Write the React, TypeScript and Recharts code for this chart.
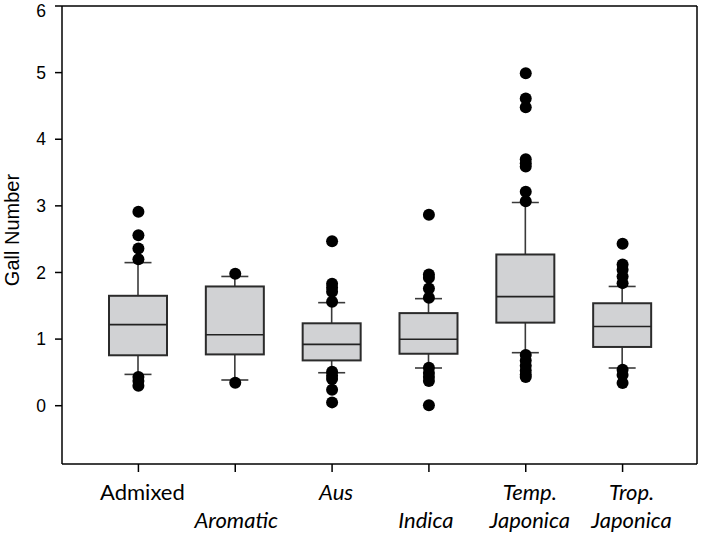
import React from 'react';
import { ComposedChart, Bar, Line, XAxis, YAxis, CartesianGrid } from 'recharts';

const categories = ['Admixed', 'Aromatic', 'Aus', 'Indica', 'Temp. Japonica', 'Trop. Japonica'];
const q1Values = [0.757, 0.77, 0.68, 0.78, 1.247, 0.882];
const medianValues = [1.217, 1.066, 0.92, 0.997, 1.637, 1.19];
const q3Values = [1.65, 1.79, 1.237, 1.39, 2.27, 1.538];
const whiskerLow = [0.47, 0.386, 0.495, 0.566, 0.796, 0.566];
const whiskerHigh = [2.148, 1.94, 1.547, 1.607, 3.05, 1.79];
const outliers = [
  [2.91, 2.56, 2.36, 2.2, 0.43, 0.37, 0.3],
  [1.98, 0.345],
  [2.47, 1.83, 1.77, 1.71, 1.56, 0.51, 0.45, 0.4, 0.24, 0.05],
  [2.865, 1.97, 1.92, 1.76, 1.62, 0.57, 0.49, 0.43, 0.37, 0.006],
  [4.99, 4.61, 4.48, 3.7, 3.64, 3.59, 3.21, 3.07, 0.76, 0.68, 0.6, 0.53, 0.47, 0.43],
  [2.43, 2.12, 2.04, 1.94, 1.84, 0.54, 0.46, 0.34],
];
const yTicks = [0, 1, 2, 3, 4, 5, 6];
const yDomain = [-0.875, 6];

const rows = categories.map((name, i) => {
  const row: Record<string, any> = {
    name,
    box: [q1Values[i], q3Values[i]],
    q1: q1Values[i],
    median: medianValues[i],
    q3: q3Values[i],
    lo: whiskerLow[i],
    hi: whiskerHigh[i],
  };
  outliers[i].forEach((v, j) => {
    row['o' + j] = v;
  });
  return row;
});
const maxOut = Math.max(...outliers.map((o) => o.length));

const labelShift = [4, 1, 4, -3, 4, 9];

function XTick(props: any) {
  const { x, y, payload } = props;
  const name: string = payload.value;
  const i = categories.indexOf(name);
  const isItalic = i > 0;
  const parts = name.split(' ');
  const lines: [string, number][] =
    parts.length === 2 ? [[parts[0], 0], [parts[1], 1]] : [[name, i % 2 === 1 ? 1 : 0]];
  return (
    <g>
      {lines.map(([t, row]) => (
        <text
          key={t}
          x={x + (labelShift[i] || 0)}
          y={y + 26 + row * 28}
          textAnchor="middle"
          fontFamily="Lato, 'Open Sans', sans-serif"
          fontSize={22}
          fontStyle={isItalic ? 'italic' : 'normal'}
          fill="#000"
        >
          {t}
        </text>
      ))}
    </g>
  );
}

function BoxShape(props: any) {
  const { x, y, width, height, payload } = props;
  if (payload == null) return null;
  const top = Math.min(y, y + height);
  const h = Math.abs(height);
  const k = h / (payload.q3 - payload.q1);
  const cx = x + width / 2;
  const medY = top + (payload.q3 - payload.median) * k;
  const hiY = top - (payload.hi - payload.q3) * k;
  const loY = top + h + (payload.q1 - payload.lo) * k;
  const cap = 27;
  const wc = '#3a3a3a';
  return (
    <g>
      <line x1={cx} x2={cx} y1={hiY} y2={top} stroke={wc} strokeWidth={1.6} />
      <line x1={cx} x2={cx} y1={top + h} y2={loY} stroke={wc} strokeWidth={1.6} />
      <line x1={cx - cap / 2} x2={cx + cap / 2} y1={hiY} y2={hiY} stroke={wc} strokeWidth={1.6} />
      <line x1={cx - cap / 2} x2={cx + cap / 2} y1={loY} y2={loY} stroke={wc} strokeWidth={1.6} />
      <rect x={x} y={top} width={width} height={h} fill="#d1d2d4" stroke="#2b2b2b" strokeWidth={2} />
      <line x1={x} x2={x + width} y1={medY} y2={medY} stroke="#222" strokeWidth={1.6} />
    </g>
  );
}

function YLabel(props: any) {
  const vb = props.viewBox || {};
  const cy = (vb.y || 0) + (vb.height || 0) / 2 - 5;
  const cx = 18.5;
  return (
    <text
      x={cx}
      y={cy}
      transform={`rotate(-90, ${cx}, ${cy})`}
      textAnchor="middle"
      fontFamily="'Liberation Sans', Arial, sans-serif"
      fontSize={20}
      fill="#000"
    >
      Gall Number
    </text>
  );
}

export default function App() {
  return (
    <div style={{ position: 'absolute', left: 0, top: 0, background: '#fff' }}>
      <ComposedChart
        width={701}
        height={534}
        data={rows}
        margin={{ top: 6, right: 4, left: 0, bottom: 0 }}
        style={{ fontFamily: "'Liberation Sans', Arial, sans-serif" }}
      >
        <CartesianGrid
          stroke="#000"
          strokeWidth={1.5}
          horizontalCoordinatesGenerator={({ offset }: any) => [offset.top]}
          verticalCoordinatesGenerator={({ offset }: any) => [offset.left + offset.width]}
        />
        <XAxis
          dataKey="name"
          type="category"
          padding={{ left: 28, right: 26 }}
          height={70}
          interval={0}
          tickSize={8}
          tickLine={{ stroke: '#000', strokeWidth: 1.5 }}
          axisLine={{ stroke: '#000', strokeWidth: 1.5 }}
          tick={<XTick />}
        />
        <YAxis
          type="number"
          domain={yDomain}
          ticks={yTicks}
          allowDataOverflow
          width={62}
          tickSize={7}
          tickMargin={9}
          tickLine={{ stroke: '#000', strokeWidth: 1.5 }}
          axisLine={{ stroke: '#000', strokeWidth: 1.5 }}
          tick={{ fill: '#000', fontSize: 17.5, fontFamily: "'Liberation Sans', Arial, sans-serif" }}
          label={<YLabel />}
        />
        <Bar dataKey="box" barSize={58} shape={<BoxShape />} isAnimationActive={false} />
        {Array.from({ length: maxOut }, (_, j) => (
          <Line
            key={'o' + j}
            dataKey={'o' + j}
            stroke="none"
            strokeWidth={0}
            dot={{ r: 6, fill: '#000', stroke: 'none', strokeWidth: 0 }}
            activeDot={false}
            legendType="none"
            isAnimationActive={false}
          />
        ))}
      </ComposedChart>
    </div>
  );
}
